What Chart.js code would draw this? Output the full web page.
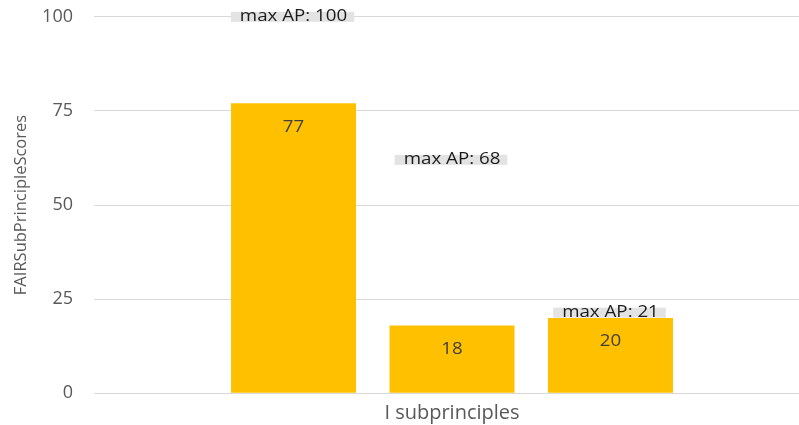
<!DOCTYPE html>
<html>
<head>
<meta charset="utf-8">
<script src="https://cdn.jsdelivr.net/npm/chart.js@4"></script>
<style>
  html, body { margin: 0; padding: 0; background: #fff; overflow: hidden; }
  #wrap { width: 830px; height: 440px; margin-top: -15px; }
</style>
</head>
<body>
<div id="wrap"><canvas id="chart" width="830" height="440"></canvas></div>
<script>
const categories = ["I subprinciples"];
const seriesNames = ["I1", "I2", "I3"];
const scores = [77, 18, 20];
const maxAP = [100, 68, 21];
// level at which each "max AP" tag sits in the picture
const maxAPLevel = [100, 62, 21.4];
const yTicks = [0, 25, 50, 75, 100];

const FONT = "'Open Sans', sans-serif";

// the source picture is a bit stretched sideways, so own labels get a wider draw
function wideText(ctx, txt, x, y, sx) {
  ctx.save();
  ctx.translate(x, y);
  ctx.scale(sx, 1);
  ctx.fillText(txt, 0, 0);
  ctx.restore();
}

const tagPlugin = {
  id: "tags",
  afterDatasetsDraw(chart) {
    const ctx = chart.ctx;
    const y = chart.scales.y;
    const sx = 1.17;
    ctx.save();
    ctx.textAlign = "center";
    ctx.textBaseline = "middle";
    chart.data.datasets.forEach((ds, i) => {
      const bar = chart.getDatasetMeta(i).data[0];
      // value inside the bar
      ctx.font = "16px " + FONT;
      ctx.fillStyle = "#404040";
      wideText(ctx, String(scores[i]), bar.x, bar.y + 24, sx);

      // max AP tag
      const py = y.getPixelForValue(maxAPLevel[i]);
      const txt = "max AP: " + maxAP[i];
      ctx.font = "16px " + FONT;
      const w = ctx.measureText(txt).width * sx;
      ctx.fillStyle = "#e3e3e3";
      ctx.fillRect(bar.x - w / 2 - 9, py - 5, w + 16, 10);
      ctx.fillStyle = "#1a1a1a";
      wideText(ctx, txt, bar.x, py, sx);
    });
    ctx.restore();
  }
};

new Chart(document.getElementById("chart"), {
  type: "bar",
  data: {
    labels: categories,
    datasets: seriesNames.map((name, i) => ({
      label: name,
      data: [scores[i]],
      backgroundColor: "#ffc000",
      borderWidth: 0
    }))
  },
  options: {
    responsive: false,
    animation: false,
    categoryPercentage: 0.664,
    barPercentage: 0.789,
    layout: { padding: { top: 0, right: 20, left: 0, bottom: 0 } },
    plugins: {
      legend: { display: false },
      tooltip: { enabled: false }
    },
    scales: {
      x: {
        grid: { display: false },
        border: { color: "#d9d9d9", width: 1 },
        ticks: { color: "#595959", font: { family: FONT, size: 20 }, padding: 0 },
        afterFit(s) { s.height = 31; }
      },
      y: {
        min: 0,
        max: 100,
        afterBuildTicks(s) { s.ticks = yTicks.map(v => ({ value: v })); },
        grid: { color: "#d9d9d9", drawTicks: false },
        border: { display: false },
        ticks: { color: "#595959", font: { family: FONT, size: 18 }, padding: 21 },
        title: {
          display: true,
          text: "FAIRSubPrincipleScores",
          color: "#595959",
          font: { family: FONT, size: 16.5 },
          padding: { top: 11, bottom: 0 }
        },
        afterFit(s) { s.width = 94; }
      }
    }
  },
  plugins: [tagPlugin]
});
</script>
</body>
</html>
